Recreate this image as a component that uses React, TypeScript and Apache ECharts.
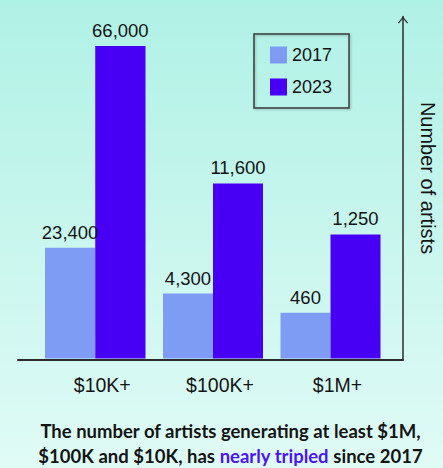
import React, { useEffect, useRef } from "react";
import * as echarts from "echarts";

const categories = ["$10K+", "$100K+", "$1M+"];
const seriesNames = ["2017", "2023"];
const values2017 = [23400, 4300, 460];
const values2023 = [66000, 11600, 1250];
// each group is drawn on its own scale in the original infographic
const groupScaleMax = [66000, 20700, 3150];

const captionLine1 = "The number of artists generating at least $1M,";
const captionLine2a = "$100K and $10K, has ";
const captionHighlight = "nearly tripled";
const captionLine2b = " since 2017";
const yAxisName = "Number of artists";

const COLOR_2017 = "#7f9cf5";
const COLOR_2023 = "#4800f5";
const AXIS_COLOR = "#2b2b2b";
const TEXT_COLOR = "#141414";
const FONT = "'Liberation Sans', Arial, sans-serif";
const CAPTION_FONT = "Lato, 'Noto Sans', sans-serif";

const groupLefts = [45, 163, 280.5];
const groupWidths = [100.5, 100, 100];

export default function App() {
  const ref = useRef<HTMLDivElement>(null);

  useEffect(() => {
    if (!ref.current) return;
    const chart = echarts.init(ref.current, undefined, { renderer: "svg" });

    const fmt = (p: any) => Number(p.value).toLocaleString("en-US");

    const grids: any[] = [
      { left: 18, top: 16.5, width: 385, height: 343 },
      ...categories.map((_, i) => ({
        left: groupLefts[i],
        top: 46,
        width: groupWidths[i],
        height: 312.5,
      })),
    ];

    const xAxes: any[] = [
      {
        gridIndex: 0,
        type: "value",
        min: 0,
        max: 1,
        axisLine: {
          show: true,
          onZero: false,
          lineStyle: { color: AXIS_COLOR, width: 2 },
        },
        axisTick: { show: false },
        axisLabel: { show: false },
        splitLine: { show: false },
      },
      ...categories.map((c, i) => ({
        gridIndex: i + 1,
        type: "category",
        data: [c],
        axisLine: { show: false },
        axisTick: { show: false },
        axisLabel: {
          fontSize: 19.5,
          color: TEXT_COLOR,
          fontFamily: FONT,
          margin: 16,
          padding: [0, 0, 0, 14],
        },
      })),
    ];

    const yAxes: any[] = [
      {
        gridIndex: 0,
        type: "value",
        position: "right",
        min: 0,
        max: 1,
        axisLine: {
          show: true,
          onZero: false,
          symbol: ["none", "path://M5,0 L10,6.2 L9.1,7 L5,1.9 L0.9,7 L0,6.2 Z"],
          symbolSize: [10, 7],
          symbolOffset: [0, -3.5],
          lineStyle: { color: AXIS_COLOR, width: 1.5 },
        },
        axisTick: { show: false },
        axisLabel: { show: false },
        splitLine: { show: false },
      },
      ...categories.map((_, i) => ({
        gridIndex: i + 1,
        type: "value",
        min: 0,
        max: groupScaleMax[i],
        show: false,
        splitLine: { show: false },
      })),
    ];

    const labelCfg = {
      show: true,
      position: "top",
      distance: 6,
      fontSize: 18.5,
      color: TEXT_COLOR,
      fontFamily: FONT,
      formatter: fmt,
    };

    const series: any[] = [];
    categories.forEach((_, i) => {
      series.push({
        type: "bar",
        name: seriesNames[0],
        xAxisIndex: i + 1,
        yAxisIndex: i + 1,
        data: [values2017[i]],
        barGap: "0%",
        barCategoryGap: "0%",
        itemStyle: { color: COLOR_2017 },
        label: labelCfg,
      });
      series.push({
        type: "bar",
        name: seriesNames[1],
        xAxisIndex: i + 1,
        yAxisIndex: i + 1,
        data: [values2023[i]],
        barGap: "0%",
        barCategoryGap: "0%",
        itemStyle: { color: COLOR_2023 },
        label: labelCfg,
      });
    });

    chart.setOption({
      animation: false,
      backgroundColor: new echarts.graphic.LinearGradient(0, 0, 0, 1, [
        { offset: 0, color: "#b0f1e5" },
        { offset: 1, color: "#e0fbf6" },
      ]),
      grid: grids,
      xAxis: xAxes,
      yAxis: yAxes,
      legend: {
        data: seriesNames,
        orient: "vertical",
        left: 254,
        top: 34,
        icon: "rect",
        itemWidth: 17,
        itemHeight: 17,
        itemGap: 14,
        padding: [12, 17, 12, 16],
        borderColor: "#3a3a3a",
        borderWidth: 1.5,
        shadowColor: "rgba(0,0,0,0.25)",
        shadowBlur: 2,
        shadowOffsetX: 1,
        shadowOffsetY: 1,
        textStyle: { fontSize: 18, color: TEXT_COLOR, fontFamily: FONT },
      },
      series,
      graphic: [
        {
          type: "text",
          x: 428,
          y: 178,
          rotation: -Math.PI / 2,
          style: {
            text: yAxisName,
            fontSize: 20,
            fontFamily: FONT,
            fill: TEXT_COLOR,
            textAlign: "center",
            textVerticalAlign: "middle",
          },
        },
        {
          type: "text",
          x: 230.5,
          y: 431,
          style: {
            text: captionLine1,
            fontSize: 18.5,
            fontWeight: "bold",
            fontFamily: CAPTION_FONT,
            fill: TEXT_COLOR,
            textAlign: "center",
            textVerticalAlign: "middle",
          },
        },
        {
          type: "text",
          x: 230.5,
          y: 456,
          style: {
            text: `{b|${captionLine2a}}{p|${captionHighlight}}{b|${captionLine2b}}`,
            textAlign: "center",
            textVerticalAlign: "middle",
            rich: {
              b: {
                fontSize: 18.5,
                fontWeight: "bold",
                fontFamily: CAPTION_FONT,
                fill: TEXT_COLOR,
                color: TEXT_COLOR,
              },
              p: {
                fontSize: 18.5,
                fontWeight: "bold",
                fontFamily: CAPTION_FONT,
                fill: "#4b14f2",
                color: "#4b14f2",
              },
            },
          },
        },
      ],
    });

    return () => chart.dispose();
  }, []);

  return (
    <div
      ref={ref}
      style={{ position: "absolute", left: 0, top: 0, width: 443, height: 468 }}
    />
  );
}
